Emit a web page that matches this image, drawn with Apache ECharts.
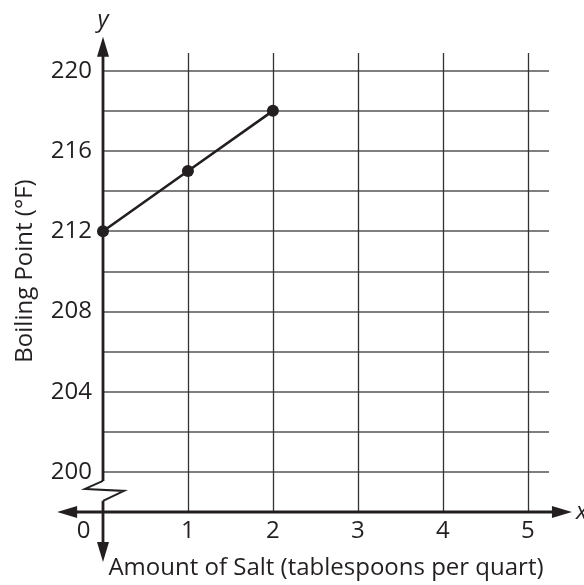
<!DOCTYPE html>
<html>
<head>
<meta charset="utf-8">
<script src="https://cdn.jsdelivr.net/npm/echarts@6/dist/echarts.min.js"></script>
<style>
html,body{margin:0;padding:0;background:#fff;}
#c{width:584px;height:585px;}
</style>
</head>
<body>
<div id="c"></div>
<script>
// Data
var saltAmounts = [0, 1, 2];
var boilingPoints = [212, 215, 218];
var xTickValues = [0, 1, 2, 3, 4, 5];
var yTickLabels = [200, 204, 208, 212, 216, 220];
var xTitle = 'Amount of Salt (tablespoons per quart)';
var yTitle = 'Boiling Point (°F)';

var FONT = 'Open Sans';
var FS = 24;
var chart = echarts.init(document.getElementById('c'), null, {renderer: 'canvas'});

var seriesData = saltAmounts.map(function (x, i) { return [x, boilingPoints[i]]; });

var option = {
  animation: false,
  backgroundColor: '#fff',
  grid: {left: 103, right: 35, top: 53, bottom: 67, containLabel: false},
  xAxis: {
    type: 'value', min: 0, max: 5.25, interval: 1,
    axisLine: {show: false}, axisTick: {show: false},
    splitLine: {show: true, showMinLine: false, showMaxLine: false, lineStyle: {color: '#333', width: 1.3}},
    axisLabel: {
      show: true, margin: 7, color: '#231f20', fontFamily: FONT, fontSize: FS,
      showMaxLabel: false,
      formatter: function (v) {
        if (xTickValues.indexOf(v) < 0) return '';
        return v === 0 ? '{z|0}' : String(v);
      },
      rich: {z: {fontFamily: FONT, fontSize: FS, color: '#231f20', padding: [0, 39, 0, 0]}}
    },
    name: xTitle, nameLocation: 'middle', nameGap: 44,
    nameTextStyle: {fontFamily: FONT, fontSize: FS, color: '#231f20'}
  },
  yAxis: {
    type: 'value', min: 198, max: 220.885, interval: 2,
    axisLine: {show: false}, axisTick: {show: false},
    splitLine: {show: true, showMinLine: false, showMaxLine: false, lineStyle: {color: '#555', width: 1.5}},
    axisLabel: {
      show: true, margin: 11, color: '#231f20', fontFamily: FONT, fontSize: FS,
      showMaxLabel: false,
      formatter: function (v) { return yTickLabels.indexOf(v) >= 0 ? String(v) : ''; }
    },
    name: yTitle, nameLocation: 'middle', nameGap: 66, nameRotate: 90,
    nameTextStyle: {fontFamily: FONT, fontSize: FS, color: '#231f20', padding: [0, 0, 0, 23]}
  },
  series: [{
    type: 'line', data: seriesData,
    symbol: 'circle', symbolSize: 12,
    lineStyle: {color: '#231f20', width: 2.6},
    itemStyle: {color: '#231f20'},
    z: 5
  }]
};
chart.setOption(option);

// Axes with arrows and the y-axis break, positioned through the chart's scales
function px(x, y) { return chart.convertToPixel({gridIndex: 0}, [x, y]); }
var origin = px(0, 198);
var ox = origin[0], oy = origin[1];
var leftEnd = px(-0.54, 198)[0];
var rightEnd = px(5.52, 198)[0];
var topEnd = px(0, 221.7)[1];
var bottomEnd = oy + 50;
var y200 = px(0, 200)[1];
var C = '#231f20';
var AL = 20, AW = 6;

var graphics = [
  // x axis line
  {type: 'line', shape: {x1: leftEnd + AL - 2, y1: oy, x2: rightEnd - AL + 2, y2: oy}, style: {stroke: C, lineWidth: 3}, z: 10},
  {type: 'polygon', shape: {points: [[leftEnd, oy], [leftEnd + AL, oy - AW], [leftEnd + AL, oy + AW]]}, style: {fill: C}, z: 10},
  {type: 'polygon', shape: {points: [[rightEnd, oy], [rightEnd - AL, oy - AW], [rightEnd - AL, oy + AW]]}, style: {fill: C}, z: 10},
  // y axis upper part
  {type: 'line', shape: {x1: ox, y1: topEnd + AL - 2, x2: ox, y2: y200 + 9}, style: {stroke: C, lineWidth: 2.8}, z: 10},
  {type: 'polygon', shape: {points: [[ox, topEnd], [ox - AW, topEnd + AL], [ox + AW, topEnd + AL]]}, style: {fill: C}, z: 10},
  // break zigzag
  {type: 'polyline', shape: {points: [[ox, y200 + 9], [ox - 18, y200 + 17], [ox + 21, y200 + 19], [ox, y200 + 29]]}, style: {stroke: C, lineWidth: 2, fill: null}, z: 10},
  // y axis lower part
  {type: 'line', shape: {x1: ox, y1: y200 + 29, x2: ox, y2: bottomEnd - AL + 2}, style: {stroke: C, lineWidth: 2.8}, z: 10},
  {type: 'polygon', shape: {points: [[ox, bottomEnd], [ox - AW, bottomEnd - AL], [ox + AW, bottomEnd - AL]]}, style: {fill: C}, z: 10},
  // axis letters
  {type: 'text', x: ox, y: topEnd - 16, style: {text: 'y', fontFamily: FONT, fontSize: FS, fontStyle: 'italic', fill: C, align: 'center', verticalAlign: 'middle'}, z: 10},
  {type: 'text', x: rightEnd + 4, y: oy, style: {text: 'x', fontFamily: FONT, fontSize: FS, fontStyle: 'italic', fill: C, align: 'left', verticalAlign: 'middle'}, z: 10}
];
chart.setOption({graphic: graphics});
</script>
</body>
</html>
